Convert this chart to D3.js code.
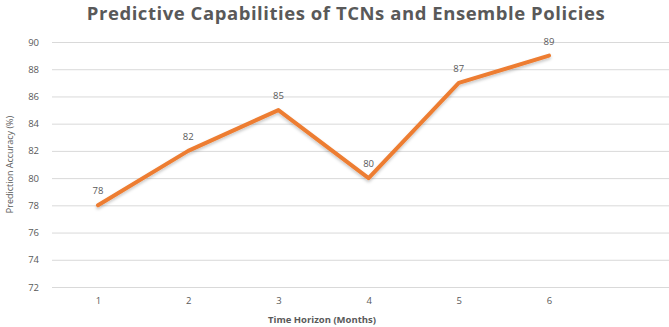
<!DOCTYPE html>
<html>
<head>
<meta charset="utf-8">
<script src="https://cdn.jsdelivr.net/npm/d3@7"></script>
<style>
  html, body { margin: 0; padding: 0; background: #fff; }
  svg { display: block; }
</style>
</head>
<body>
<svg id="chart" width="669" height="327"></svg>
<script>
const months = [1, 2, 3, 4, 5, 6];
const accuracy = [78, 82, 85, 80, 87, 89];
const yTicks = [72, 74, 76, 78, 80, 82, 84, 86, 88, 90];

const W = 669, H = 327;
const margin = { top: 42, right: 0, bottom: 40, left: 52 };
const svg = d3.select("#chart");
const textColor = "#595959";
const font = "'Open Sans', 'Liberation Sans', sans-serif";

const x = d3.scalePoint()
  .domain(months)
  .range([98, 549]);

const y = d3.scaleLinear()
  .domain([72, 90])
  .range([H - margin.bottom, margin.top]);

const defs = svg.append("defs");
const f = defs.append("filter").attr("id", "soft")
  .attr("x", "-10%").attr("y", "-10%").attr("width", "120%").attr("height", "130%");
f.append("feDropShadow").attr("dx", 0).attr("dy", 2).attr("stdDeviation", 1.6)
  .attr("flood-color", "#000").attr("flood-opacity", 0.22);

// title
svg.append("text")
  .attr("x", 346).attr("y", 20)
  .attr("text-anchor", "middle")
  .attr("font-family", font)
  .attr("font-weight", 700)
  .attr("font-size", 18.5)
  .attr("letter-spacing", 0.55)
  .attr("fill", textColor)
  .text("Predictive Capabilities of TCNs and Ensemble Policies");

// horizontal gridlines and y tick labels
const yAxis = d3.axisLeft(y).tickValues(yTicks).tickSize(-(W - margin.left)).tickPadding(13);
const gy = svg.append("g")
  .attr("transform", `translate(${margin.left},0)`)
  .call(yAxis);
gy.select(".domain").remove();
gy.selectAll(".tick line").attr("stroke", "#d9d9d9").attr("stroke-width", 1);
gy.selectAll(".tick text")
  .attr("fill", textColor).attr("font-family", font).attr("font-size", 9.5);

// x tick labels
const xAxis = d3.axisBottom(x).tickSize(0).tickPadding(10);
const gx = svg.append("g")
  .attr("transform", `translate(0,${y(72)})`)
  .call(xAxis);
gx.select(".domain").remove();
gx.selectAll(".tick text")
  .attr("fill", textColor).attr("font-family", font).attr("font-size", 9.5);

// axis titles
svg.append("text")
  .attr("transform", `translate(13,${(y(72) + y(90)) / 2}) rotate(-90)`)
  .attr("text-anchor", "middle")
  .attr("font-family", font)
  .attr("font-size", 9)
  .attr("fill", textColor)
  .text("Prediction Accuracy (%)");

svg.append("text")
  .attr("x", 322).attr("y", 323)
  .attr("text-anchor", "middle")
  .attr("font-family", font)
  .attr("font-weight", 700)
  .attr("font-size", 9.5)
  .attr("fill", textColor)
  .text("Time Horizon (Months)");

// series line
const data = months.map((m, i) => ({ m, v: accuracy[i] }));
const line = d3.line().x(d => x(d.m)).y(d => y(d.v));
svg.append("path")
  .datum(data)
  .attr("d", line)
  .attr("fill", "none")
  .attr("stroke", "#ED7D31")
  .attr("stroke-width", 4)
  .attr("stroke-linejoin", "round")
  .attr("stroke-linecap", "round")
  .attr("filter", "url(#soft)");

// data labels
svg.append("g").selectAll("text")
  .data(data)
  .join("text")
  .attr("x", d => x(d.m))
  .attr("y", d => y(d.v) - 11)
  .attr("text-anchor", "middle")
  .attr("font-family", font)
  .attr("font-size", 9.5)
  .attr("fill", textColor)
  .text(d => d.v);
</script>
</body>
</html>
